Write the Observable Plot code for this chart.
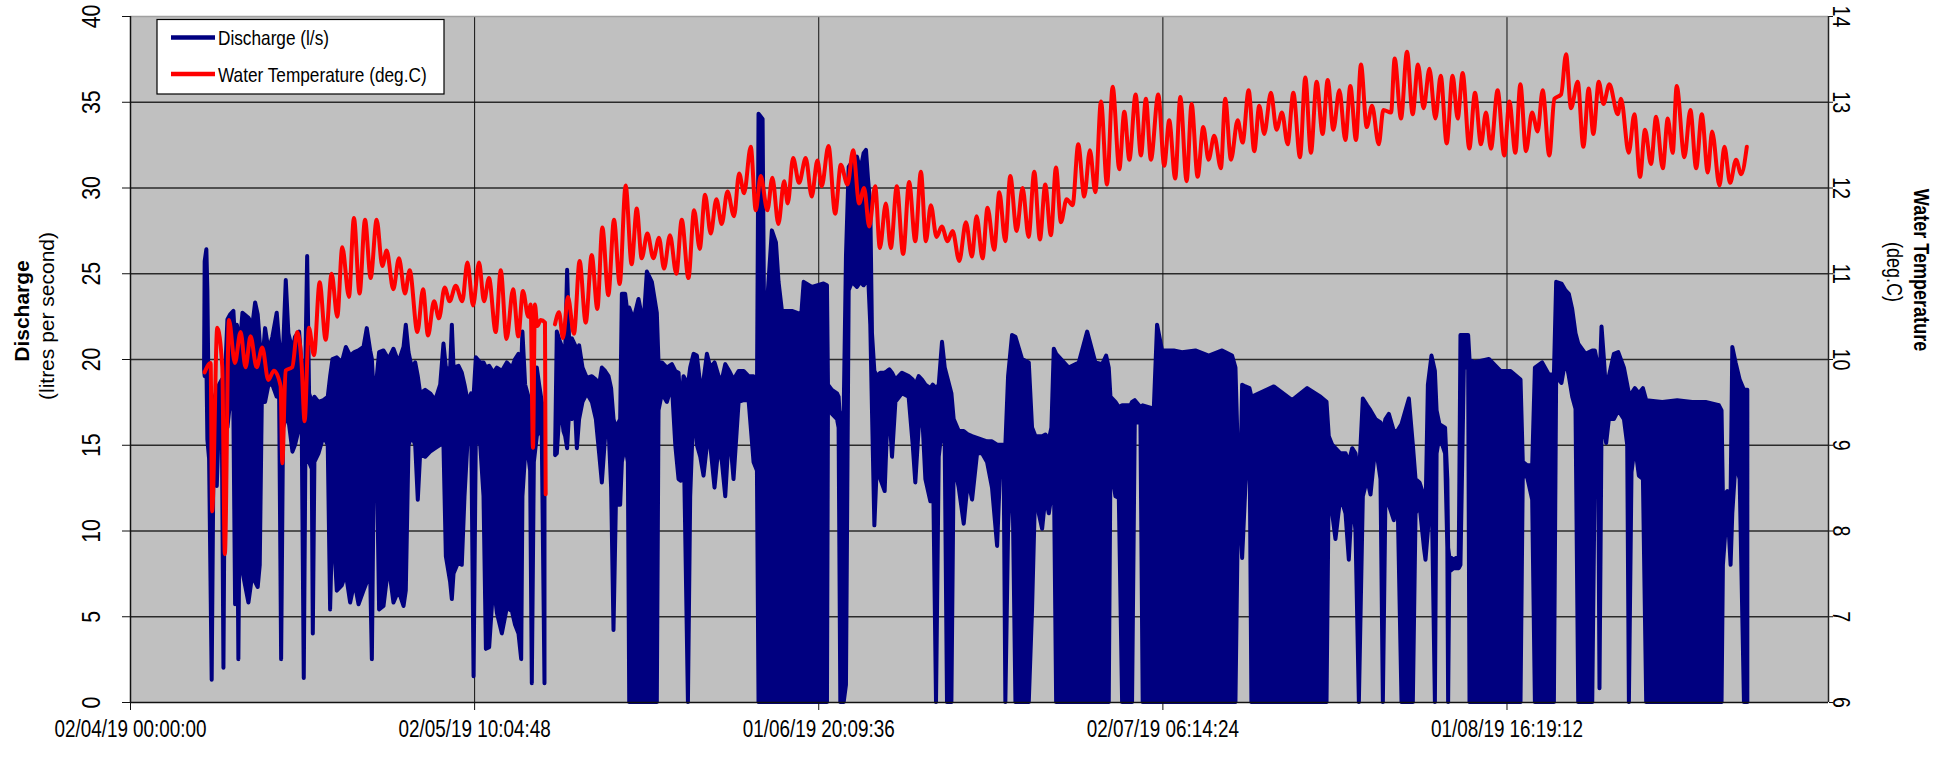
<!DOCTYPE html>
<html>
<head>
<meta charset="utf-8">
<script src="https://cdn.jsdelivr.net/npm/d3@7"></script>
<script src="https://cdn.jsdelivr.net/npm/@observablehq/plot@0.6"></script>
<style>
  html, body { margin: 0; padding: 0; background: #ffffff; }
  #chart { width: 1943px; height: 763px; }
</style>
</head>
<body>
<div id="chart"></div>
<script>
// ---------------- DATA ----------------
// x = days since 02/04/19 00:00:00
const xTickDays   = [0, 30.42, 60.84, 91.26, 121.68];
const xTickLabels = ["02/04/19 00:00:00", "02/05/19 10:04:48", "01/06/19 20:09:36", "02/07/19 06:14:24", "01/08/19 16:19:12"];
const xDomainEnd  = 150.1;
const dischargeTicks = [0, 5, 10, 15, 20, 25, 30, 35, 40];
const temperatureTicks = [6, 7, 8, 9, 10, 11, 12, 13, 14];

// Discharge (l/s): [day, lower envelope, upper envelope] of the record
const discharge = [
[6.55,19.4,19.8],[6.6,19,25.7],[6.75,20,26.4],[6.84,15.3,24],[6.99,14.2,15.3],[7.22,1.3,14.5],[7.37,13.5,17.5],
[7.67,12.6,18.2],[7.87,16.5,18.5],[8.11,17,18.8],[8.26,2,18.5],[8.4,17,19],[8.61,16,22.3],[8.85,17.5,22.6],
[9.14,17,22.8],[9.29,5.7,21],[9.44,16,22],[9.58,2.5,21.5],[9.73,15,21],[9.94,7.6,22.7],[10.47,5.8,22.4],
[10.82,7.5,22],[11.06,7,23.3],[11.29,6.7,22.6],[11.47,8,21],[11.65,17.5,19.4],[11.94,17.5,21.8],[12.24,18.5,20.5],
[12.59,18.5,21.3],[12.97,17.8,22.7],[13.18,18,21],[13.36,2.5,20],[13.53,16,20.5],[13.77,16.5,24.6],[14.0,16.5,21.5],
[14.36,14.6,20.5],[14.59,15,21.3],[14.95,16,21.6],[15.18,16,19.5],[15.36,1.4,19],[15.51,15,20],[15.66,15,26],
[15.83,14,18],[16.07,13.6,17.5],[16.16,4,17],[16.3,14,17.8],[16.66,14.5,17.5],[17.1,15.5,17.6],[17.48,15,17.8],
[17.69,5.4,19],[17.9,11,20],[18.28,6.5,20.1],[18.72,6.8,19.8],[19.08,7.5,20.7],[19.46,5.8,20.2],[19.84,7,20.4],
[20.2,5.7,20.5],[20.64,6.5,20.7],[20.93,7,21.8],[21.23,7.5,20.5],[21.38,2.5,20],[21.58,15.5,17.5],[21.82,14,19],
[22.02,5.4,20.4],[22.41,5.6,20.5],[22.85,8,20],[23.29,5.8,20.6],[23.73,6.5,19.8],[24.18,5.6,20.7],[24.38,6.5,22],
[24.62,15,20.4],[24.91,15.5,19.5],[25.21,15,19.8],[25.44,11.8,19],[25.65,14.5,18],[26.09,14.3,18.2],[26.53,14.6,18],
[26.98,14.8,17.6],[27.42,15,18.5],[27.71,15,20.9],[27.92,8.5,19.5],[28.3,7,19.4],[28.45,6,22],[28.6,7.5,19.5],
[29.04,8.2,19.6],[29.33,8,19.2],[29.57,12,18.5],[29.86,15.5,17.5],[30.16,16,18],[30.37,1.5,17.8],[30.57,15.5,20.1],
[30.96,15,19.8],[31.25,12,19.8],[31.46,3.1,19.5],[31.75,3.2,19.6],[32.13,7,19.2],[32.43,5.2,19.5],[32.87,4,19.3],
[33.31,5.5,19.8],[33.76,5.3,19.5],
[34.04,4.5,20],[34.34,4,20.3],[34.58,2.5,19.5],[34.69,12,21.6],[34.93,14.5,18.5],[35.22,14.3,17.8],[35.37,13.5,17.5],
[35.52,1.1,16.5],[35.7,14,17.5],[35.96,15.5,19.5],[36.17,16,18.5],[36.4,15.5,17.5],[36.64,1.1,17],[37.1,null,null],
[37.58,14.4,14.8],[37.73,14.5,21.6],[38.02,17.5,21],[38.32,15.8,20.5],[38.47,15.5,20.5],[38.64,14.8,25.2],[38.82,17,21],
[39.06,16.5,21.2],[39.35,17,20.8],[39.5,14.8,20.5],[39.7,16.5,20.8],[40.0,17.5,19.5],[40.38,18,18.9],[40.83,17.5,19],
[41.18,16.5,18.8],[41.47,14.5,18.5],[41.71,12.8,19.5],[42.0,15.5,19.3],[42.3,16,19],[42.53,12.5,18.3],[42.74,4.2,16.5],
[42.95,11.5,16],[43.33,11.5,16.5],[43.48,14,23.8],[43.77,15,23.8],[44.01,14,22.5],[44.13,0,23],[44.51,0,22.3],
[44.95,0,23.5],[45.39,0,22],[45.69,0,25.1],[46.13,0,24.5],[46.57,0,22.7],[46.72,17,19.8],[47.02,18,19.8],
[47.46,17.5,19.5],[47.9,18.5,19.7],[48.2,15,19.3],[48.49,13,19.2],[48.7,12.9,17],[48.93,16,19],[49.32,0,18.5],
[49.52,12,19.5],[49.82,17.5,20.3],[50.11,15,20.2],[50.41,14.3,18.5],[50.7,13.2,18.8],[51.0,15,20.3],[51.29,15,19.5],
[51.67,12.5,19.8],[52.03,15,19],[52.32,14,18.8],[52.62,12,19.7],[52.97,16,19.3],[53.35,13,18.8],[53.8,17.5,19.3],
[54.24,17.6,19.3],[54.68,17.6,19],[55.12,14,19],[55.42,13.5,17.8],[55.56,0,34.3],[55.92,0,34],[56.1,0,18],
[56.39,0,24],[56.74,0,27.5],[57.1,0,26.8],[57.33,0,24.5],[57.63,0,22.8],[58.51,0,22.8],[59.34,0,22.6],
[59.55,0,24.5],[60.28,0,24.2],[61.31,0,24.4],
[61.61,0,24.3],[61.7,17.5,18.5],[62.05,16.8,18.2],[62.5,16.5,18],[62.64,16,17.8],[62.79,0,16],[63.09,0,17],
[63.29,1,26],[63.53,24,31.2],[63.82,24.5,31.5],[64.26,24.2,31.8],[64.56,24.5,31],[64.85,24.3,32],[65.06,24.5,32.2],
[65.24,25,30.5],[65.44,22,29],[65.59,17,21.5],[65.8,10.3,19.3],[66.03,14,19],[66.33,13,19.2],[66.71,12.3,19.2],
[66.92,16,19.3],[67.12,17,19.4],[67.36,14.3,19.2],[67.66,17.5,18.8],[68.24,18,19.2],[68.83,17.8,19],[69.19,15,18.8],
[69.42,12.8,18.5],[69.72,16,19],[70.01,17,18.8],[70.31,13,18.5],[70.75,11.7,18.3],[70.96,15,18.5],[71.25,0,18.3],
[71.49,14.3,18.5],[71.78,16,21],[72.02,15,19.5],[72.22,0,19],[72.61,0,18],[72.81,14,16.5],[73.26,12.5,15.8],
[73.7,10.4,15.8],[74.08,13,15.6],[74.44,11.8,15.5],[74.88,14.5,15.4],[75.32,14.5,15.3],[75.76,14,15.2],[76.2,12.5,15.2],
[76.65,9.1,15],[76.94,14,15],[77.24,13,15],[77.38,0,15],[77.62,10,19],[77.97,15,21.4],[78.27,0,21.3],
[78.86,0,20],[79.45,0,19.8],[79.74,5.4,16],[80.04,13,15.5],[80.33,11,15.5],[80.63,10.1,15.5],[80.92,12,15.6],
[81.22,11,15.3],[81.45,12,16],[81.66,14,20.6],[81.87,0,20.3],[82.98,0,19.5],[83.87,0,19.8],[84.61,0,21.6],
[85.34,0,19.8],[85.94,0,19.7],[86.29,0,20.2],[86.52,0,19.5],[86.67,14,17.8],[87.11,12,17.5],[87.41,11.9,17.2],
[87.7,0,17.3],[88.44,0,17.3],
[88.58,0,17.5],[88.82,16.3,17.6],[89.32,16.3,17.2],[89.52,0,17.3],[90.5,0,17.1],[90.79,0,22],[91.23,0,20.5],
[92.27,0,20.5],[93.0,0,20.4],[94.18,0,20.5],[95.36,0,20.2],[96.54,0,20.5],[97.42,0,20.2],[97.72,0,19.5],
[97.95,11.6,14],[98.16,10.5,13],[98.31,8.4,18.5],[98.6,12.6,18.4],[98.96,16,18.3],[99.13,0,17.8],[101.11,0,18.4],
[102.73,0,17.6],[104.06,0,18.3],[105.24,0,17.8],[105.77,0,17.5],[105.97,13,15.5],[106.27,11,15],[106.56,9.5,14.8],
[107.0,12,14.5],[107.45,11,14.5],[107.74,8.3,14],[108.04,12,14.8],[108.33,10,14.5],[108.63,0,13],[108.98,12,17.7],
[109.36,13,17.3],[109.66,12.1,17],[110.1,15,16.5],[110.54,13,16.3],[110.75,0,15.8],[110.98,12,16.5],[111.28,11.5,16.8],
[111.72,10.6,15.8],[112.02,13,15.8],[112.4,0,16.2],[113.05,0,17.7],[113.4,0,15],[113.64,11,13],[113.99,11.5,12.8],
[114.38,9,12],[114.52,8.3,11],[114.73,10,18.5],[115.05,13,20.2],[115.35,0,19.3],[115.5,14.5,17],[115.75,15.5,16.2],
[116.25,14.5,16],[116.45,9,13],[116.52,0,9],[116.62,7.6,8.5],[117.0,7.8,8.3],[117.46,7.8,8.5],
[117.61,8,21.4],[117.91,19.5,21.4],[118.29,19.5,21.4],[118.41,0,20],[118.79,0,19.8],[120.12,0,20],[121.15,0,19.3],
[122.03,0,19.3],[122.92,0,18.8],[123.12,13.3,14],[123.51,13.1,13.8],[123.95,11.8,13.8],[124.19,0,19.5],[124.83,0,19.8],
[125.42,0,19.1],[125.87,0,19.1],[126.07,19,24.5],[126.54,18.6,24.4],[126.9,20,24],[127.19,19,23.8],[127.49,17.8,22.9],
[127.78,17.1,21.5],[128.02,0,20.9],[128.67,0,20.3],[129.26,0,20.5],[129.49,14.1,20.5],[129.79,14,19.5],[129.9,0.8,18.5],
[130.08,16,21.9],[130.29,16,20],[130.49,15.1,18],[130.73,16.5,19],[131.17,16.5,20.3],[131.56,17,20.4],[132.06,16.5,19.5],
[132.35,15,18.5],[132.5,0,18],[132.73,13.4,18],[133.03,15,18.3],[133.38,13.2,18],[133.74,13,18.3],[134.03,0,17.6],
[135.45,0,17.5],[136.77,0,17.6],[138.1,0,17.5],[139.28,0,17.5],[140.46,0,17.3],[140.69,0,17],[140.81,8,12],
[141.2,11.5,12.3],[141.49,8,12],[141.64,11,20.7],[141.93,14,19.8],[142.29,13,18.8],[142.67,0,18.2],[142.97,0,18.2]
];

// Water temperature (deg.C): [day, value] at the turning points of the trace
const temperature = [
[6.55,9.85],[7.08,9.96],[7.22,8.23],[7.67,10.37],[8.11,9.92],[8.34,7.73],[8.7,10.46],[9.23,9.96],[9.73,10.32],
[10.17,9.91],[10.61,10.27],[11.15,9.91],[11.65,10.14],[12.18,9.76],[12.68,9.87],[13.27,9.69],[13.42,8.79],[13.71,9.87],
[14.3,9.91],[14.74,10.32],[15.12,9.96],[15.39,9.28],[15.77,10.37],[16.22,10.05],[16.72,10.9],[17.25,10.23],[17.78,11.0],
[18.28,10.5],[18.72,11.31],[19.31,10.73],[19.75,11.65],[20.25,10.77],[20.73,11.63],[21.23,10.95],[21.76,11.63],
[22.26,11.09],[22.64,11.27],[23.23,10.82],[23.73,11.18],[24.26,10.77],[24.68,11.04],[25.36,10.32],[25.86,10.82],
[26.3,10.28],[26.83,10.68],[27.27,10.48],[27.77,10.84],[28.21,10.68],[28.75,10.86],[29.33,10.68],[29.78,11.13],
[30.28,10.63],[30.81,11.13],[31.25,10.68],[31.69,10.95],[32.28,10.32],[32.73,11.04],[33.24,10.24],[33.82,10.82],
[34.28,10.27],[34.69,10.8],[35.16,10.5],[35.37,10.64],[35.58,8.97],[35.75,10.64],[35.96,10.39],[36.26,10.46],
[36.64,10.43],[36.7,8.43],[37.1,null],[37.52,10.41],[37.88,10.55],[38.23,10.25],[38.67,10.73],[39.2,10.3],[39.7,11.15],
[40.24,10.43],[40.77,11.22],[41.27,10.59],[41.71,11.54],[42.24,10.75],[42.74,11.63],[43.24,10.88],[43.77,12.03],
[44.3,11.11],[44.75,11.76],[45.19,11.18],[45.69,11.47],[46.22,11.18],[46.72,11.42],[47.16,11.06],[47.69,11.45],
[48.25,11.0],[48.73,11.63],[49.32,10.95],[49.82,11.74],[50.32,11.29],[50.79,11.92],[51.29,11.47],[51.79,11.87],
[52.26,11.58],[52.77,11.96],[53.35,11.67],[53.8,12.17],[54.24,11.94],[54.83,12.48],[55.27,11.74],[55.71,12.14],
[56.3,11.74],[56.74,12.12],[57.27,11.58],[57.78,12.08],[58.1,11.82],[58.57,12.35],[59.1,12.06],[59.69,12.35],
[60.22,11.9],[60.72,12.32],[61.1,12.02],
[61.7,12.49],[62.29,11.7],[62.79,12.27],[63.38,12.04],[63.88,12.44],[64.41,11.82],[64.85,12.0],[65.3,11.55],
[65.83,12.02],[66.24,11.3],[66.77,11.82],[67.21,11.3],[67.74,12.02],[68.3,11.23],[68.83,12.07],[69.37,11.38],
[69.87,12.19],[70.31,11.38],[70.75,11.8],[71.25,11.43],[71.72,11.55],[72.22,11.38],[72.67,11.5],[73.26,11.15],
[73.85,11.6],[74.38,11.2],[74.79,11.67],[75.32,11.18],[75.76,11.77],[76.35,11.28],[76.8,11.95],[77.33,11.38],
[77.77,12.14],[78.33,11.5],[78.86,12.0],[79.39,11.43],[79.89,12.19],[80.39,11.4],[80.86,12.04],[81.36,11.45],
[81.81,12.24],[82.25,11.6],[82.75,11.87],[83.28,11.8],[83.78,12.51],[84.31,11.9],[84.81,12.44],[85.29,11.95],
[85.79,13.01],[86.32,12.04],[86.82,13.18],[87.41,12.22],[87.85,12.89],[88.3,12.33],[88.85,13.09],
[89.32,12.38],[89.76,13.04],[90.2,12.33],[90.85,13.09],[91.38,12.26],[91.82,12.79],[92.35,12.11],[92.8,13.06],
[93.36,12.08],[93.8,12.98],[94.33,12.13],[94.83,12.71],[95.3,12.33],[95.8,12.61],[96.39,12.23],[96.77,13.04],
[97.28,12.33],[97.87,12.79],[98.31,12.53],[98.84,13.14],[99.34,12.43],[99.78,12.96],[100.22,12.63],[100.81,13.11],
[101.31,12.68],[101.79,12.88],[102.29,12.51],[102.79,13.11],[103.38,12.36],[103.85,13.29],[104.35,12.41],[104.85,13.24],
[105.38,12.63],[105.83,13.26],[106.33,12.68],[106.86,13.14],[107.39,12.56],[107.83,13.19],[108.33,12.56],[108.77,13.44],
[109.28,12.71],[109.75,12.96],[110.34,12.51],[110.75,12.91],[111.43,12.88],[111.75,13.51],[112.31,12.81],[112.84,13.59],
[113.34,12.86],[113.81,13.44],[114.31,12.93],[114.82,13.39],[115.35,12.81],[115.82,13.31],[116.35,12.52],
[116.87,13.31],[117.32,12.81],[117.76,13.34],[118.35,12.46],[118.85,13.11],[119.38,12.51],[119.82,12.88],[120.26,12.46],
[120.85,13.14],[121.44,12.38],[121.89,13.01],[122.42,12.41],[122.86,13.21],[123.36,12.43],[123.89,12.88],[124.39,12.66],
[124.83,13.14],[125.42,12.38],[125.87,13.04],[126.46,13.09],[126.9,13.56],[127.34,12.93],[127.93,13.24],[128.43,12.48],
[128.9,13.16],[129.31,12.63],[129.79,13.24],[130.2,12.98],[130.73,13.21],[131.47,12.86],[131.76,13.04],[132.44,12.41],
[132.94,12.86],[133.44,12.13],[133.88,12.68],[134.41,12.28],[134.86,12.83],[135.45,12.23],[135.89,12.81],[136.33,12.41],
[136.68,13.19],[137.36,12.36],[137.89,12.91],[138.4,12.23],[138.9,12.86],[139.43,12.18],[139.81,12.66],[140.46,12.03],
[140.9,12.48],[141.4,12.06],[141.93,12.33],[142.38,12.16],[142.88,12.48]
];

// ---------------- RENDERING ----------------
const NAVY = "#000080", RED = "#ff0000";
function fontAvailable(f) {
  const c = document.createElement("canvas").getContext("2d");
  const s = "02/04/19 00:00 Water";
  c.font = "100px monospace"; const a = c.measureText(s).width;
  c.font = `100px "${f}", monospace`; return c.measureText(s).width !== a;
}
const narrow = ["Liberation Sans Narrow", "Arial Narrow"].find(fontAvailable);
const FONT = narrow ? `"${narrow}", sans-serif` : `"Liberation Sans", Arial, sans-serif`;
const WIDE = `"Liberation Sans", Arial, sans-serif`;

// temperature is drawn on the discharge scale: 6..14 deg.C  <->  0..40 l/s
const tToQ = t => (t - 6) * 5;
const qRows = discharge.map(([day, lo, hi]) => ({day, lo, hi}));
const tRows = temperature.map(([day, t]) => ({day, q: t == null ? null : tToQ(t)}));

const svg = Plot.plot({
  width: 1943, height: 763,
  marginLeft: 130, marginRight: 115, marginTop: 16, marginBottom: 61,
  style: {fontFamily: FONT, fontSize: "23px", background: "#ffffff", color: "#000", overflow: "visible"},
  x: {type: "linear", domain: [0, xDomainEnd]},
  y: {domain: [0, 40]},
  marks: [
    Plot.frame({fill: "#c0c0c0", stroke: "none"}),
    Plot.gridY(dischargeTicks.slice(1, -1), {stroke: "#2a2a2a", strokeOpacity: 1, strokeWidth: 1.3}),
    Plot.gridX(xTickDays.slice(1), {stroke: "#111", strokeOpacity: 1, strokeWidth: 1}),
    Plot.areaY(qRows, {x: "day", y1: "lo", y2: "hi", fill: NAVY, stroke: NAVY, strokeWidth: 4, strokeLinejoin: "round"}),
    Plot.lineY(tRows, {x: "day", y: "q", stroke: RED, strokeWidth: 4, curve: "monotone-x"}),
    Plot.ruleY([40], {stroke: "#a0a0a0", strokeWidth: 1.5}),
    Plot.ruleY([0], {stroke: "#111", strokeWidth: 1.5}),
    Plot.ruleX([0], {stroke: "#111", strokeWidth: 1.5}),
    Plot.ruleX([xDomainEnd], {stroke: "#222", strokeWidth: 1.5}),
    Plot.axisY(dischargeTicks, {anchor: "left", tickSize: 8, tickPadding: 23, tickRotate: -90,
      textAnchor: "middle", lineAnchor: "bottom", fontSize: 26, label: null, stroke: "#111"}),
    Plot.axisY(temperatureTicks.map(tToQ), {anchor: "right", tickSize: 4, tickPadding: 0, tickRotate: 90,
      textAnchor: "middle", lineAnchor: "bottom", fontSize: 24, label: null, stroke: "#111",
      tickFormat: q => temperatureTicks[temperatureTicks.map(tToQ).indexOf(q)]}),
    Plot.axisX(xTickDays, {tickSize: 8, tickPadding: 10, fontSize: 23, label: null, stroke: "#111",
      tickFormat: d => xTickLabels[xTickDays.indexOf(d)]})
  ]
});
document.getElementById("chart").appendChild(svg);

// ---- legend and axis titles ----
const s = d3.select(svg);
const g = s.append("g").attr("font-family", FONT);
g.append("rect").attr("x", 157).attr("y", 19.5).attr("width", 287).attr("height", 74.5)
  .attr("fill", "#fff").attr("stroke", "#000").attr("stroke-width", 1.2);
[[NAVY, "Discharge (l/s)", 37.5], [RED, "Water Temperature (deg.C)", 74]].forEach(([c, label, y]) => {
  g.append("line").attr("x1", 171).attr("x2", 215).attr("y1", y).attr("y2", y)
    .attr("stroke", c).attr("stroke-width", 4.5);
  g.append("text").attr("x", 218).attr("y", y + 7.5).attr("text-anchor", "start")
    .attr("font-size", 21).attr("fill", "#000").text(label);
});
const title = (x, y, rot, txt, bold, family, size, cls) =>
  g.append("text").attr("class", cls || null)
   .attr("transform", `translate(${x},${y}) rotate(${rot})`).attr("text-anchor", "middle")
   .attr("font-family", family).attr("font-size", size)
   .attr("font-weight", bold ? "bold" : "normal").attr("fill", "#000").text(txt);
title(29, 311, -90, "Discharge", true, WIDE, 21, "wide");
title(54, 316, -90, "(litres per second)", false, WIDE, 21, "wide");
title(1914, 270, 90, "Water Temperature", true, FONT, 22);
title(1887, 272, 90, "(deg.C)", false, FONT, 22);

// fallback: compress text horizontally if no narrow font is installed
if (!narrow) {
  svg.querySelectorAll("text:not(.wide)").forEach(el => {
    const L = el.getComputedTextLength();
    if (L > 0) { el.setAttribute("textLength", L * 0.82); el.setAttribute("lengthAdjust", "spacingAndGlyphs"); }
  });
}
</script>
</body>
</html>
